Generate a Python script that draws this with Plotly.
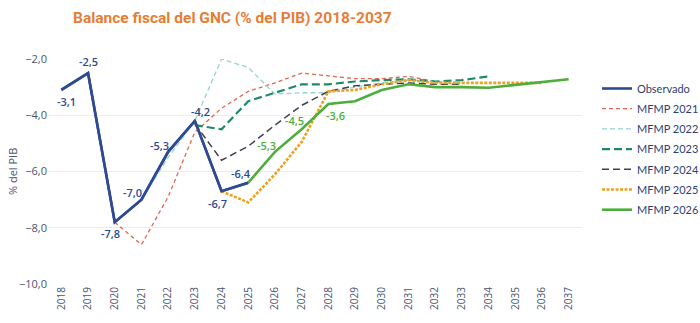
import plotly.graph_objects as go

years = [str(y) for y in range(2018, 2038)]
y_ticks = [-2, -4, -6, -8, -10]

obs_years = ["2018", "2019", "2020", "2021", "2022", "2023", "2024", "2025"]
obs_vals = [-3.1, -2.5, -7.8, -7.0, -5.3, -4.2, -6.7, -6.4]

m21_years = ["2020", "2021", "2022", "2023", "2024", "2025", "2026", "2027", "2028", "2029", "2030", "2031", "2032"]
m21_vals = [-7.8, -8.6, -6.9, -4.6, -3.75, -3.15, -2.85, -2.5, -2.6, -2.7, -2.7, -2.62, -2.8]

m22_years = ["2021", "2022", "2023", "2024", "2025", "2026", "2027", "2028", "2029", "2030", "2031", "2032", "2033"]
m22_vals = [-7.0, -5.5, -4.2, -2.0, -2.3, -3.25, -3.2, -3.2, -3.0, -2.85, -2.75, -2.8, -2.85]

m23_years = ["2023", "2024", "2025", "2026", "2027", "2028", "2029", "2030", "2031", "2032", "2033", "2034"]
m23_vals = [-4.35, -4.5, -3.5, -3.2, -2.9, -2.9, -2.8, -2.75, -2.72, -2.8, -2.75, -2.62]

m24_years = ["2023", "2024", "2025", "2026", "2027", "2028", "2029", "2030", "2031", "2032", "2033"]
m24_vals = [-4.3, -5.6, -5.1, -4.35, -3.65, -3.15, -2.95, -2.9, -2.85, -2.9, -2.9]

m25_years = ["2024", "2025", "2026", "2027", "2028", "2029", "2030", "2031", "2032", "2033", "2034", "2035", "2036"]
m25_vals = [-6.7, -7.1, -6.1, -4.95, -3.15, -3.1, -2.9, -2.75, -2.85, -2.85, -2.85, -2.85, -2.85]

m26_years = ["2025", "2026", "2027", "2028", "2029", "2030", "2031", "2032", "2033", "2034", "2035", "2036", "2037"]
m26_vals = [-6.4, -5.3, -4.5, -3.6, -3.5, -3.1, -2.9, -3.0, -3.0, -3.02, -2.92, -2.82, -2.72]

# label offsets (px) for data labels
obs_label_shift = [(5, -12), (0, 12), (-4, -11), (-9, 7), (-9, 6), (6, 9), (-4, -12), (-7, 9)]
m26_label_years = ["2026", "2027", "2028"]
m26_label_vals = [-5.3, -4.5, -3.6]
m26_label_shift = [(-8, 6), (-7, 9), (7, -11)]

NAVY = "#2E4A93"
GREEN = "#4DAE3B"
AXIS_TXT = "#4A5470"
fig = go.Figure()

series = [
    ("MFMP 2021", m21_years, m21_vals, "#E0674E", 1.3, "4px,3px"),
    ("MFMP 2022", m22_years, m22_vals, "#93D3D3", 1.3, "5px,3px"),
    ("MFMP 2023", m23_years, m23_vals, "#1F8A68", 2.2, "8px,4px"),
    ("MFMP 2024", m24_years, m24_vals, "#3E4150", 1.5, "7px,4px"),
    ("MFMP 2025", m25_years, m25_vals, "#F0A11E", 2.6, "3px,1.5px"),
    ("MFMP 2026", m26_years, m26_vals, GREEN, 2.6, "solid"),
]

fig.add_trace(go.Scatter(x=obs_years, y=obs_vals, mode="lines", name="Observado",
                         legendgroup="obs", line=dict(color=NAVY, width=2.6)))
for name, xs, ys, col, w, d in series:
    fig.add_trace(go.Scatter(x=xs, y=ys, mode="lines", name=name, legendgroup=name,
                             line=dict(color=col, width=w, dash=d)))
fig.add_trace(go.Scatter(x=obs_years, y=obs_vals, mode="lines", showlegend=False,
                         legendgroup="obs", line=dict(color=NAVY, width=2.6), hoverinfo="skip"))

def fmt(v):
    return f"{v:.1f}".replace(".", ",")

annotations = []
for x, v, (dx, dy) in zip(obs_years, obs_vals, obs_label_shift):
    annotations.append(dict(x=years.index(x), y=v, xref="x", yref="y", text=fmt(v), showarrow=False,
                            xshift=dx, yshift=dy,
                            font=dict(family="Open Sans", size=11, color=NAVY, weight=600)))
for x, v, (dx, dy) in zip(m26_label_years, m26_label_vals, m26_label_shift):
    annotations.append(dict(x=years.index(x), y=v, xref="x", yref="y", text=fmt(v), showarrow=False,
                            xshift=dx, yshift=dy,
                            font=dict(family="Open Sans", size=11, color=GREEN, weight=600)))
# y-axis title
annotations.append(dict(x=(12 - 48) / 534, y=1 - (172 - 59) / 225, xref="paper", yref="paper",
                        text="% del PIB", showarrow=False, textangle=-90,
                        xanchor="center", yanchor="middle",
                        font=dict(family="Open Sans", size=11, color=AXIS_TXT)))

fig.update_layout(
    width=700, height=323,
    margin=dict(l=48, r=118, t=59, b=39),
    paper_bgcolor="white", plot_bgcolor="white",
    separators=",.",
    annotations=annotations,
    title=dict(text="<b>Balance fiscal del GNC (% del PIB) 2018-2037</b>",
               x=73 / 700, xanchor="left", y=1 - 18 / 323, yanchor="middle",
               font=dict(family="Roboto", size=15.5, color="#E57E34")),
    legend=dict(xref="container", yref="container", x=597 / 700, xanchor="left",
                y=1 - 74 / 323, yanchor="top",
                font=dict(family="Lato", size=11, color="#2E3F6E"),
                bgcolor="rgba(0,0,0,0)", tracegroupgap=1.2),
    showlegend=True,
)
fig.update_xaxes(type="category", categoryorder="array", categoryarray=years,
                 range=[-0.5, 19.5], tickangle=-90, showgrid=False, showline=False,
                 automargin=False,
                 ticks="", tickfont=dict(family="Open Sans", size=10, color=AXIS_TXT))
fig.update_yaxes(range=[-10, -2], tickvals=y_ticks, tickformat=".1f",
                 gridcolor="#E6EEF3", zeroline=False, showline=False, automargin=False,
                 tickfont=dict(family="Open Sans", size=11, color=AXIS_TXT))

fig.write_html("out.html")
